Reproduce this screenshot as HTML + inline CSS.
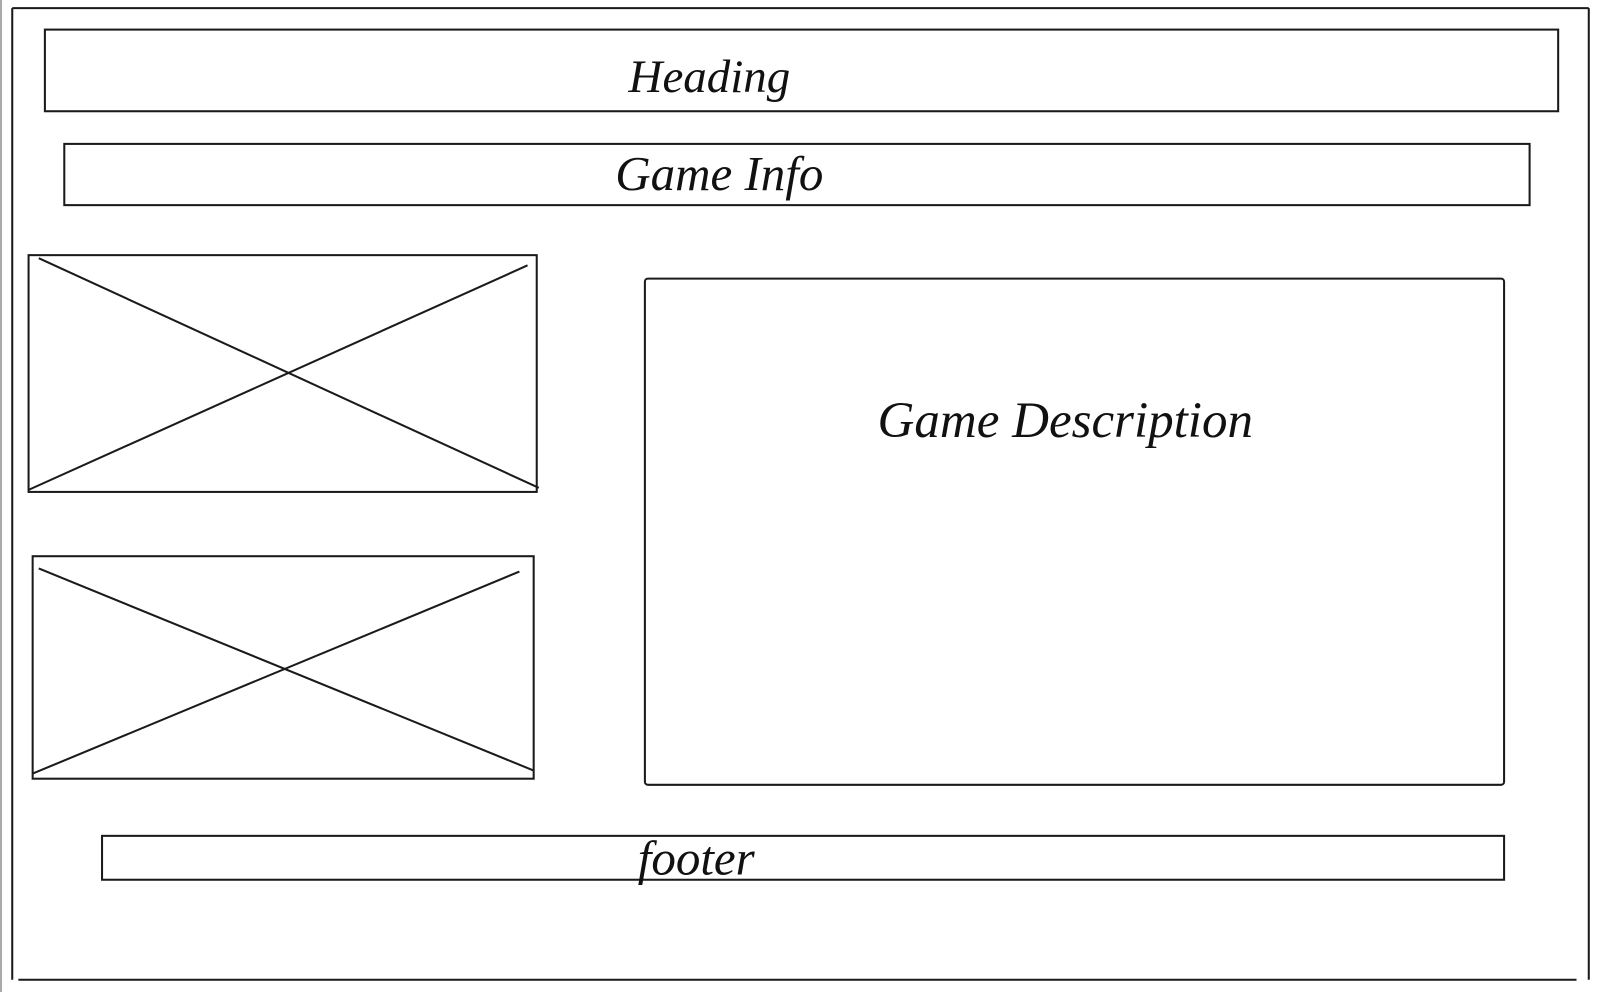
<!DOCTYPE html>
<html><head><meta charset="utf-8"><style>
html,body{margin:0;padding:0;background:#fff;width:1600px;height:992px;overflow:hidden}
svg{display:block}
text{font-family:"Liberation Serif",serif;fill:#111;font-style:italic}
</style></head><body>
<svg width="1600" height="992" viewBox="0 0 1568 972" preserveAspectRatio="none" fill="none" stroke="#1a1a1a" stroke-width="2">
<line x1="1" y1="0" x2="1" y2="972" stroke="#aaa"/>
<g>
<line x1="12" y1="8" x2="1557" y2="8"/>
<line x1="12" y1="8" x2="12" y2="960"/>
<line x1="1557" y1="8" x2="1557" y2="960"/>
<line x1="18" y1="960" x2="1545" y2="960"/>
</g>
<g>
<rect x="44" y="29" width="1483" height="80"/>
<text x="616" y="90" font-size="46" stroke="none">Heading</text>
</g>
<g>
<rect x="63" y="141" width="1436" height="60"/>
<text x="603" y="186" font-size="48" stroke="none">Game Info</text>
</g>
<g>
<rect x="28" y="250" width="498" height="232"/>
<line x1="38" y1="253" x2="528" y2="478"/>
<line x1="28" y1="480" x2="517" y2="260"/>
</g>
<g>
<rect x="32" y="545" width="491" height="218"/>
<line x1="38" y1="557" x2="523" y2="755"/>
<line x1="32" y1="758" x2="509" y2="560"/>
</g>
<g>
<rect x="632" y="273" width="842" height="496" rx="3"/>
<text x="860" y="428" font-size="50" stroke="none">Game Description</text>
</g>
<g>
<rect x="100" y="819" width="1374" height="43"/>
<text x="625" y="857" font-size="48" stroke="none">footer</text>
</g>
</svg>
</body></html>
